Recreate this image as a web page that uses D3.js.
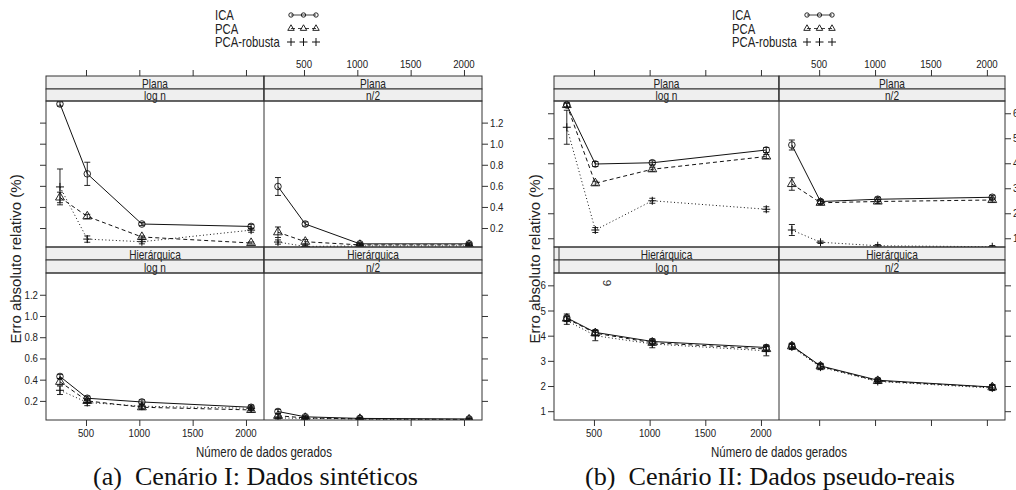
<!DOCTYPE html>
<html>
<head>
<meta charset="utf-8">
<script src="https://cdn.jsdelivr.net/npm/d3@7"></script>
<style>
  body { margin: 0; background: #fff; }
  svg { display: block; }
</style>
</head>
<body>
<script>
// values
var nVals = [256, 512, 1024, 2048];
var seriesNames = ["ICA", "PCA", "PCA-robusta"];
var xTicks = [500, 1000, 1500, 2000];
var rowNames = ["Plana", "Hierárquica"];
var colNames = ["log n", "n/2"];
var yTicksA = [0.2, 0.4, 0.6, 0.8, 1.0, 1.2];
var yTicksB = [1, 2, 3, 4, 5, 6];

// Cenario I (rows: ICA, PCA, PCA-robusta)
var synPlanaLogn = [[1.377, 0.714, 0.238, 0.215], [0.49, 0.31, 0.115, 0.058], [0.59, 0.095, 0.07, 0.18]];
var synPlanaLognErr = [[0.02, 0.11, 0.015, 0.02], [0.05, 0.02, 0.01, 0.01], [0.17, 0.03, 0.02, 0.02]];
var synPlanaHalf = [[0.594, 0.238, 0.05, 0.05], [0.16, 0.07, 0.04, 0.04], [0.067, 0.025, 0.03, 0.03]];
var synPlanaHalfErr = [[0.085, 0.02, 0.01, 0.01], [0.05, 0.02, 0.01, 0.01], [0.02, 0.01, 0.01, 0.01]];
var synHierLogn = [[0.43, 0.225, 0.19, 0.14], [0.38, 0.2, 0.14, 0.115], [0.3, 0.185, 0.15, 0.13]];
var synHierLognErr = [[0.02, 0.02, 0.02, 0.02], [0.03, 0.02, 0.02, 0.02], [0.04, 0.03, 0.02, 0.02]];
var synHierHalf = [[0.1, 0.05, 0.035, 0.03], [0.06, 0.04, 0.03, 0.025], [0.04, 0.035, 0.03, 0.02]];
var synHierHalfErr = [[0.02, 0.01, 0.01, 0.01], [0.02, 0.01, 0.01, 0.01], [0.01, 0.01, 0.01, 0.01]];

// Cenario II
var psPlanaLogn = [[6.33, 3.97, 4.02, 4.53], [6.33, 3.2, 3.76, 4.27], [5.44, 1.33, 2.5, 2.16]];
var psPlanaLognErr = [[0.08, 0.1, 0.08, 0.1], [0.08, 0.08, 0.08, 0.08], [0.68, 0.1, 0.1, 0.1]];
var psPlanaHalf = [[4.73, 2.47, 2.56, 2.64], [3.17, 2.42, 2.47, 2.53], [1.33, 0.84, 0.7, 0.66]];
var psPlanaHalfErr = [[0.2, 0.08, 0.08, 0.08], [0.25, 0.08, 0.08, 0.08], [0.22, 0.05, 0.05, 0.05]];
var psHierLogn = [[4.71, 4.13, 3.77, 3.53], [4.68, 4.1, 3.72, 3.47], [4.6, 4.0, 3.67, 3.4]];
var psHierLognErr = [[0.15, 0.1, 0.1, 0.1], [0.1, 0.1, 0.1, 0.1], [0.15, 0.2, 0.15, 0.2]];
var psHierHalf = [[3.6, 2.8, 2.23, 1.96], [3.58, 2.78, 2.2, 1.95], [3.55, 2.75, 2.18, 1.92]];
var psHierHalfErr = [[0.1, 0.1, 0.08, 0.1], [0.1, 0.1, 0.08, 0.1], [0.1, 0.1, 0.08, 0.1]];

var svg = d3.select("body").append("svg")
  .attr("width", 1016).attr("height", 490);

var dashes = [null, "4,3", "1,2.5"];
var ink = "#111";

// narrow sans text (no narrow font installed, so squeeze Liberation Sans)
function ntext(sel, x, y, str, size, anchor) {
  return sel.append("text")
    .attr("transform", "translate(" + x + "," + y + ") scale(0.82,1)")
    .attr("text-anchor", anchor || "start")
    .attr("font-family", "'Liberation Sans', Arial, sans-serif")
    .attr("font-size", size).attr("fill", "#222").text(str);
}

function drawSymbol(g, k, x, y, small) {
  if (k == 0) {
    g.append("circle").attr("cx", x).attr("cy", y).attr("r", small ? 2.2 : 3.3)
      .attr("fill", "none").attr("stroke", ink).attr("stroke-width", 0.9);
  } else if (k == 1) {
    g.append("path").attr("transform", "translate(" + x + "," + y + ")")
      .attr("d", d3.symbol(d3.symbolTriangle, small ? 18 : 34)())
      .attr("fill", "none").attr("stroke", ink).attr("stroke-width", 0.9);
  } else {
    var s = 4;
    g.append("path").attr("d", "M" + (x - s) + "," + y + "H" + (x + s) + "M" + x + "," + (y - s) + "V" + (y + s))
      .attr("stroke", ink).attr("stroke-width", 1);
  }
}

var rowTop = [[76, 89, 101, 247], [247, 260, 273, 420]]; // strip1, strip2, data top, data bottom

function drawFigure(fig) {
  var cols = [[fig.x0, fig.xm], [fig.xm, fig.x1]];
  var g = svg.append("g");

  for (var r = 0; r < 2; r++) {
    for (var c = 0; c < 2; c++) {
      var px0 = cols[c][0], px1 = cols[c][1];
      var rt = rowTop[r];
      var x = d3.scaleLinear().domain(fig.xDomain).range([px0, px1]);
      var y = d3.scaleLinear().domain(fig.yDomain).range([rt[3], rt[2]]);
      var vals = fig.data[r][c], errs = fig.errs[r][c];

      // strips
      g.append("rect").attr("x", px0).attr("y", rt[0]).attr("width", px1 - px0).attr("height", rt[1] - rt[0])
        .attr("fill", "#efefef").attr("stroke", "#333").attr("stroke-width", 1);
      g.append("rect").attr("x", px0).attr("y", rt[1]).attr("width", px1 - px0).attr("height", rt[2] - rt[1])
        .attr("fill", "#efefef").attr("stroke", "#333").attr("stroke-width", 1);
      ntext(g, (px0 + px1) / 2, rt[1] - 1, rowNames[r], 12.3, "middle");
      ntext(g, (px0 + px1) / 2, rt[2] - 1, colNames[c], 12.3, "middle");

      // data area
      var clipId = "clip" + fig.id + r + c;
      svg.append("clipPath").attr("id", clipId).append("rect")
        .attr("x", px0).attr("y", rt[2]).attr("width", px1 - px0).attr("height", rt[3] - rt[2]);
      var dg = g.append("g").attr("clip-path", "url(#" + clipId + ")");

      for (var k = 2; k >= 0; k--) {
        var line = d3.line().x(function(d, i) { return x(nVals[i]); }).y(function(d) { return y(d); });
        dg.append("path").datum(vals[k]).attr("d", line)
          .attr("fill", "none").attr("stroke", ink).attr("stroke-width", 1)
          .attr("stroke-dasharray", dashes[k]);
        for (var i = 0; i < nVals.length; i++) {
          var cx = x(nVals[i]), v = vals[k][i], e = errs[k][i];
          dg.append("path")
            .attr("d", "M" + cx + "," + y(v - e) + "V" + y(v + e) +
              "M" + (cx - 3) + "," + y(v - e) + "H" + (cx + 3) +
              "M" + (cx - 3) + "," + y(v + e) + "H" + (cx + 3))
            .attr("stroke", ink).attr("stroke-width", 0.9).attr("fill", "none");
          drawSymbol(dg, k, cx, y(v), false);
        }
      }

      // x ticks: top row on top, bottom row on bottom (labels alternate like lattice)
      var tickG;
      if (r == 0) {
        tickG = g.append("g").attr("transform", "translate(0," + rt[0] + ")")
          .call(d3.axisTop(x).tickValues(xTicks).tickSize(6).tickFormat(""));
        if (c == 1) xTicks.forEach(function(t) { ntext(g, x(t), rt[0] - 8, t, 11.8, "middle"); });
      } else {
        tickG = g.append("g").attr("transform", "translate(0," + rt[3] + ")")
          .call(d3.axisBottom(x).tickValues(xTicks).tickSize(6).tickFormat(""));
        if (c == 0) xTicks.forEach(function(t) { ntext(g, x(t), rt[3] + 17, t, 11.8, "middle"); });
      }
      tickG.select(".domain").remove();

      // y ticks: left column on the left, right column on the right
      var yG;
      if (c == 0) {
        yG = g.append("g").attr("transform", "translate(" + px0 + ",0)")
          .call(d3.axisLeft(y).tickValues(fig.yTicks).tickSize(6).tickFormat(""));
        if (r == 1) fig.yTicks.forEach(function(t) { ntext(g, px0 - 8, y(t) + 4, fig.yFmt(t), 11.8, "end"); });
      } else {
        yG = g.append("g").attr("transform", "translate(" + px1 + ",0)")
          .call(d3.axisRight(y).tickValues(fig.yTicks).tickSize(6).tickFormat(""));
        if (r == 0) fig.yTicks.forEach(function(t) { ntext(g, px1 + 8, y(t) + 4, fig.yFmt(t), 11.8, "start"); });
      }
      yG.select(".domain").remove();

      [tickG, yG].forEach(function(a) {
        a.selectAll("line").attr("stroke", "#333");
      });
    }
  }

  // panel frames
  g.append("rect").attr("x", fig.x0).attr("y", rowTop[0][2]).attr("width", fig.x1 - fig.x0)
    .attr("height", rowTop[0][3] - rowTop[0][2]).attr("fill", "none").attr("stroke", "#333");
  g.append("rect").attr("x", fig.x0).attr("y", rowTop[1][2]).attr("width", fig.x1 - fig.x0)
    .attr("height", rowTop[1][3] - rowTop[1][2]).attr("fill", "none").attr("stroke", "#333");
  g.append("line").attr("x1", fig.xm).attr("x2", fig.xm).attr("y1", rowTop[0][0]).attr("y2", rowTop[1][3])
    .attr("stroke", "#333");

  // legend
  for (var k = 0; k < 3; k++) {
    var ly = 20 + k * 13.5;
    ntext(g, fig.legX, ly, seriesNames[k], 13.8, "start");
    var sx = [fig.legS, fig.legS + 12.5, fig.legS + 25];
    if (k < 2) {
      g.append("path").attr("d", "M" + sx[0] + "," + (ly - 5) + "H" + sx[2])
        .attr("stroke", ink).attr("stroke-width", 0.8).attr("stroke-dasharray", dashes[k]);
    }
    sx.forEach(function(s) { drawSymbol(g, k, s, ly - 5, true); });
  }

  // titles
  g.append("text").attr("transform", "translate(" + fig.yTitleX + ",259) rotate(-90)")
    .attr("text-anchor", "middle").attr("font-family", "'Liberation Sans', Arial, sans-serif")
    .attr("font-size", 15).attr("fill", "#222").text("Erro absoluto relativo (%)");
  ntext(g, fig.xm, 457, "Número de dados gerados", 14, "middle");
  g.append("text").attr("x", fig.capX).attr("y", 485)
    .attr("text-anchor", "middle").attr("font-family", "'Liberation Serif', 'Times New Roman', serif")
    .attr("font-size", 24.5).attr("fill", "#111")
    .attr("textLength", fig.capW).attr("lengthAdjust", "spacingAndGlyphs").text(fig.caption);
  return g;
}

drawFigure({
  id: "a", x0: 46, xm: 264, x1: 482,
  xDomain: [125, 2169], yDomain: [0.02, 1.405], yTicks: yTicksA, yFmt: d3.format(".1f"),
  data: [[synPlanaLogn, synPlanaHalf], [synHierLogn, synHierHalf]],
  errs: [[synPlanaLognErr, synPlanaHalfErr], [synHierLognErr, synHierHalfErr]],
  legX: 215, legS: 291, yTitleX: 21,
  capX: 255.5, capW: 325,
  caption: "(a)\u2002Cenário I: Dados sintéticos"
});

var gb = drawFigure({
  id: "b", x0: 554, xm: 779, x1: 1005,
  xDomain: [141, 2162], yDomain: [0.65, 6.49], yTicks: yTicksB, yFmt: d3.format("d"),
  data: [[psPlanaLogn, psPlanaHalf], [psHierLogn, psHierHalf]],
  errs: [[psPlanaLognErr, psPlanaHalfErr], [psHierLognErr, psHierHalfErr]],
  legX: 732, legS: 807, yTitleX: 540,
  capX: 770, capW: 370,
  caption: "(b)\u2002Cenário II: Dados pseudo-reais"
});

// stray marks present in the original figure (b)
gb.append("line").attr("x1", 559).attr("x2", 559).attr("y1", 247).attr("y2", 273).attr("stroke", "#333");
gb.append("text").attr("transform", "translate(611,283) rotate(-90)")
  .attr("font-family", "'Liberation Sans', Arial, sans-serif")
  .attr("text-anchor", "middle").attr("font-size", 11.8).attr("fill", "#333").text("6");
</script>
</body>
</html>
